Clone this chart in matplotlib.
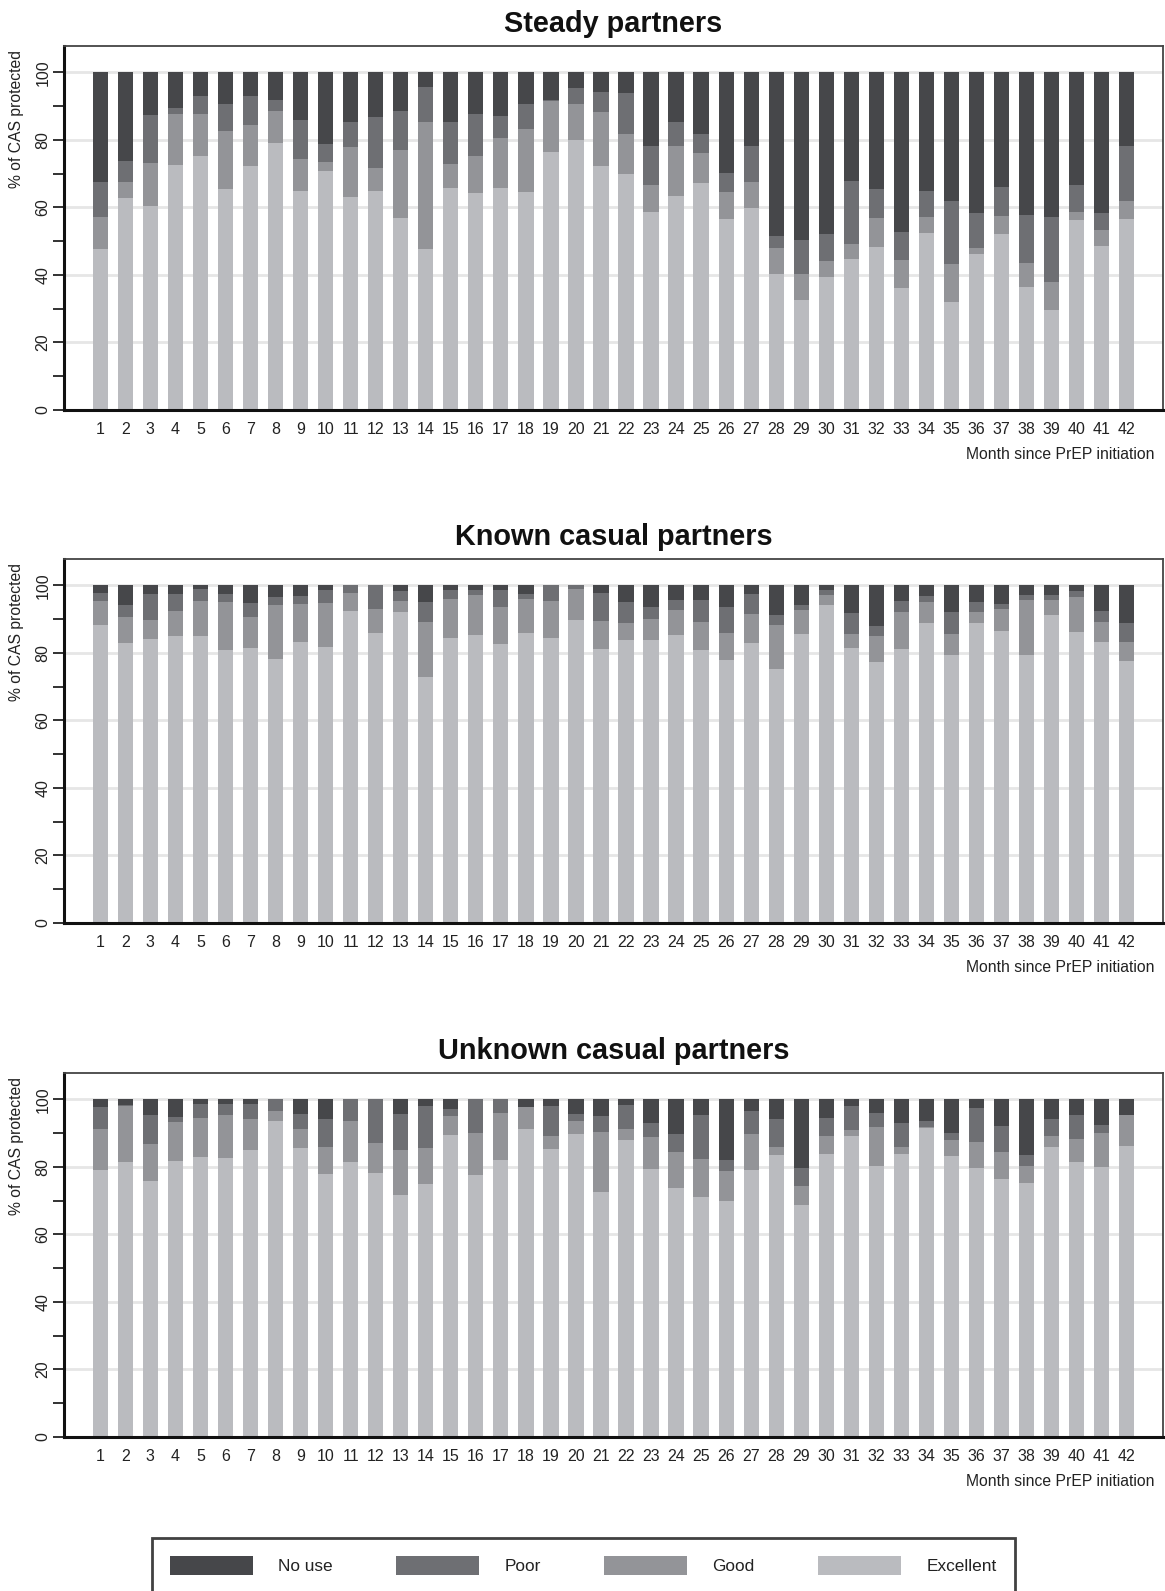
import numpy as np
import matplotlib
matplotlib.use("Agg")
import matplotlib.pyplot as plt
from matplotlib.patches import Patch

plt.rcParams['font.family'] = ['Liberation Sans', 'DejaVu Sans']

months = list(range(1, 43))
categories = ["No use", "Poor", "Good", "Excellent"]
colors = {"No use": "#46474a", "Poor": "#6e6f73", "Good": "#939498", "Excellent": "#babbbf"}

# cumulative levels (% of CAS): excellent, excellent+good, excellent+good+poor; rest up to 100 = no use
steady_exc = [47.7, 62.8, 60.5, 72.6, 75.2, 65.5, 72.4, 79.0, 65.0, 70.9, 63.2, 65.0, 57.0, 47.7,
              65.8, 64.4, 65.8, 64.7, 76.5, 80.1, 72.4, 70.0, 58.7, 63.5, 67.2, 56.7, 59.9, 40.3,
              32.7, 39.5, 44.8, 48.4, 36.2, 52.5, 32.1, 46.3, 52.2, 36.5, 29.7, 56.4, 48.7, 56.7]
steady_good = [57.2, 67.5, 73.1, 87.8, 87.8, 82.7, 84.5, 88.6, 74.4, 73.5, 78.0, 71.8, 77.1, 85.4,
               73.0, 75.3, 80.7, 83.3, 91.6, 90.7, 88.4, 81.8, 66.6, 78.2, 76.2, 64.6, 67.6, 48.1,
               40.4, 44.2, 49.2, 57.0, 44.5, 57.3, 43.3, 48.1, 57.6, 43.6, 38.0, 58.7, 53.4, 62.0]
steady_poor = [67.5, 73.7, 87.4, 89.3, 93.1, 90.7, 93.1, 91.8, 86.0, 78.8, 85.4, 86.9, 88.6, 95.8,
               85.4, 87.8, 87.2, 90.7, 91.8, 95.5, 94.3, 94.0, 78.3, 85.4, 81.8, 70.2, 78.3, 51.5,
               50.3, 52.2, 67.9, 65.5, 52.8, 65.0, 61.9, 58.4, 66.1, 57.8, 57.3, 66.7, 58.4, 78.3]

known_exc = [88.3, 83.0, 84.1, 85.0, 85.0, 80.9, 81.5, 78.2, 83.3, 81.8, 92.4, 85.9, 92.1, 72.9,
             84.4, 85.3, 82.7, 85.9, 84.4, 89.8, 81.2, 83.8, 83.8, 85.3, 80.9, 77.9, 83.0, 75.3,
             85.6, 94.2, 81.5, 77.3, 81.2, 88.9, 79.4, 88.9, 86.5, 79.4, 91.2, 86.2, 83.3, 77.6]
known_good = [95.3, 90.5, 89.8, 92.4, 95.4, 95.1, 90.6, 94.2, 94.5, 94.8, 97.7, 93.0, 95.4, 89.2,
              96.0, 97.1, 93.6, 96.0, 95.4, 98.8, 89.5, 88.9, 90.0, 92.7, 89.2, 85.9, 91.5, 88.3,
              92.7, 97.1, 85.6, 85.0, 92.1, 95.1, 85.6, 92.1, 93.0, 95.7, 95.7, 96.6, 89.2, 83.3]
known_poor = [97.6, 94.1, 97.4, 97.4, 98.8, 97.4, 94.8, 96.6, 96.8, 98.6, 100.0, 100.0, 98.3, 95.1,
              98.6, 98.6, 98.6, 97.4, 100.0, 100.0, 97.7, 95.1, 93.6, 95.7, 95.7, 93.6, 97.4, 91.2,
              94.2, 98.6, 91.8, 88.0, 95.4, 96.8, 92.1, 95.1, 94.5, 97.1, 97.1, 98.2, 92.4, 88.9]

unknown_exc = [79.2, 81.3, 75.7, 81.6, 82.8, 82.5, 84.9, 93.7, 85.7, 77.8, 81.3, 78.1, 71.6, 74.8,
               89.3, 77.5, 81.9, 91.1, 85.4, 89.6, 72.5, 88.1, 79.5, 73.6, 71.0, 69.8, 79.0, 83.4,
               68.6, 83.7, 89.0, 80.4, 83.7, 91.6, 83.1, 79.8, 76.3, 75.1, 86.0, 81.3, 80.1, 86.3]
unknown_good = [91.1, 98.0, 86.9, 93.4, 94.6, 95.5, 94.3, 96.4, 91.3, 86.0, 93.7, 87.2, 84.9, 85.7,
                95.2, 89.9, 96.1, 97.8, 89.0, 93.7, 90.2, 91.1, 88.7, 84.3, 82.2, 78.7, 89.6, 86.0,
                74.2, 89.0, 90.8, 91.9, 86.0, 91.9, 88.1, 87.5, 84.3, 80.4, 89.0, 88.4, 89.9, 95.5]
unknown_poor = [97.7, 98.3, 95.5, 94.9, 98.7, 98.7, 98.7, 100.0, 95.8, 94.3, 100.0, 100.0, 95.8, 98.1,
                97.0, 100.0, 100.0, 97.8, 98.1, 95.8, 95.2, 98.4, 93.1, 89.6, 95.5, 81.9, 96.4, 94.3,
                79.8, 94.6, 98.1, 96.1, 93.1, 93.7, 89.9, 97.5, 92.2, 83.4, 94.3, 95.5, 92.5, 95.5]

panels = [
    ("Steady partners", steady_exc, steady_good, steady_poor),
    ("Known casual partners", known_exc, known_good, known_poor),
    ("Unknown casual partners", unknown_exc, unknown_good, unknown_poor),
]

W, H = 1165, 1591
fig = plt.figure(figsize=(W / 100, H / 100), dpi=100)

# axes boxes in pixels: (top, bottom)
boxes = [(46, 410), (559, 923), (1073, 1437)]
left_px, right_px = 64, 1163

for (title, exc, good, poor), (top, bot) in zip(panels, boxes):
    ax = fig.add_axes([left_px / W, 1 - bot / H, (right_px - left_px) / W, (bot - top) / H])
    exc = np.array(exc)
    good = np.array(good)
    poor = np.array(poor)
    segs = {
        "Excellent": (np.zeros_like(exc), exc),
        "Good": (exc, good - exc),
        "Poor": (good, poor - good),
        "No use": (poor, 100 - poor),
    }
    for name in ["Excellent", "Good", "Poor", "No use"]:
        b, h = segs[name]
        ax.bar(months, h, bottom=b, width=0.61, color=colors[name], linewidth=0, zorder=2)

    ax.set_xlim(-0.45, 43.45)
    ax.set_ylim(0, 107.8)
    ax.set_yticks([0, 20, 40, 60, 80, 100])
    ax.set_yticks([10, 30, 50, 70, 90], minor=True)
    ax.set_xticks(months)
    ax.set_xticklabels([str(m) for m in months], fontsize=11.5)
    ax.tick_params(axis='x', length=0, pad=8.5, colors='#222222')
    ax.tick_params(axis='y', which='both', length=7.7, width=1.3, color='#222222',
                   labelsize=11.5, pad=2, labelcolor='#222222')
    for lab in ax.get_yticklabels():
        lab.set_rotation(90)
        lab.set_va('center')
    ax.grid(axis='y', which='major', color='#e6e6e6', linewidth=2, zorder=0)
    ax.set_axisbelow(True)

    ax.spines['left'].set_linewidth(2.2)
    ax.spines['left'].set_color('#111111')
    ax.spines['bottom'].set_linewidth(2.2)
    ax.spines['bottom'].set_color('#111111')
    ax.spines['top'].set_linewidth(1.3)
    ax.spines['top'].set_color('#444444')
    ax.spines['right'].set_linewidth(1.3)
    ax.spines['right'].set_color('#444444')

    ax.set_ylabel("% of CAS protected", fontsize=11.3, loc='top', color='#222222')
    ax.yaxis.set_label_coords(-0.0364, 0.989)
    ax.set_xlabel("Month since PrEP initiation", fontsize=11.3, loc='right', color='#222222')
    ax.xaxis.set_label_coords(0.9927, -0.1005)
    ax.set_title(title, fontsize=20.8, fontweight='bold', pad=10, color='#111111')

handles = [Patch(facecolor=colors[c], edgecolor='none', label=c) for c in categories]
leg = fig.legend(handles=handles, loc='upper left', bbox_to_anchor=(152 / W, 1 - 1538 / H),
                 ncol=4, fontsize=12.4, frameon=True, fancybox=False, handlelength=4.8,
                 handleheight=1.3, handletextpad=1.47, columnspacing=3.7, borderpad=1.05,
                 borderaxespad=0)
leg.get_frame().set_edgecolor('#111111')
leg.get_frame().set_linewidth(2)
for t in leg.get_texts():
    t.set_color('#222222')

fig.savefig("out.png", dpi=100)
